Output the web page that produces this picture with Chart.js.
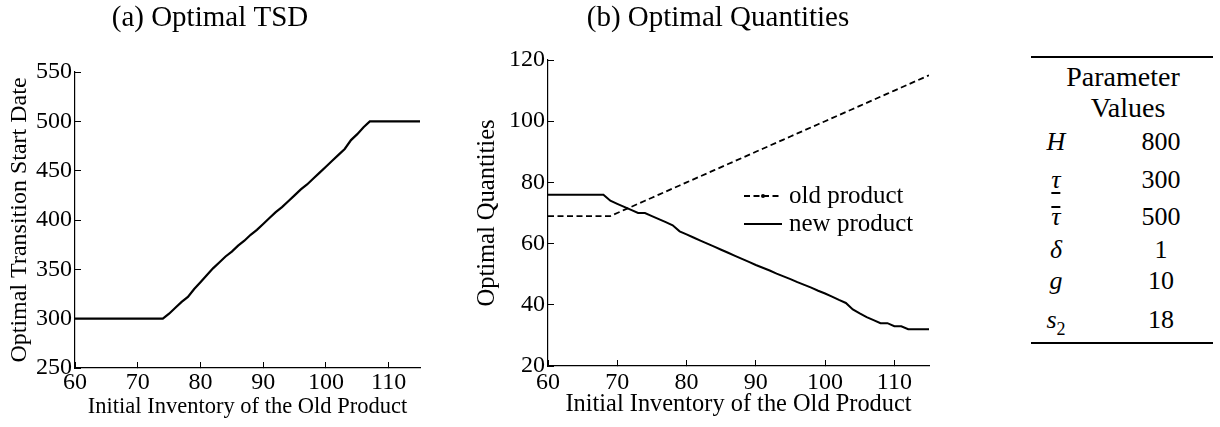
<!DOCTYPE html>
<html>
<head>
<meta charset="utf-8">
<script src="https://cdn.jsdelivr.net/npm/chart.js@4.4.0/dist/chart.umd.min.js"></script>
<style>
    body { margin: 0; width: 1220px; height: 427px; background: #fff; position: relative; overflow: hidden;
           font-family: "Liberation Serif", "Times New Roman", serif; color: #000; }
    #boxA { position: absolute; left: 0; top: 0; width: 424px; height: 427px; }
    #boxB { position: absolute; left: 460px; top: 0; width: 516px; height: 427px; }
    .rule { position: absolute; left: 1031px; width: 182px; height: 2px; background: #000; }
    .cell { position: absolute; height: 26px; line-height: 26px; font-size: 26px; white-space: nowrap;
            transform: translateX(-50%); }
    .sym { font-style: italic; position: relative; display: inline-block; }
    .under::after { content: ''; position: absolute; left: 0; right: 0; top: 25px; height: 1.5px; background: #000; }
    .over::after { content: ''; position: absolute; left: 0; right: 0; top: 2px; height: 1.5px; background: #000; }
    sub { font-style: normal; font-size: 18px; vertical-align: -7px; line-height: 0; }
</style>
</head>
<body>
<div id="boxA"><canvas id="chartA"></canvas></div>
<div id="boxB"><canvas id="chartB"></canvas></div>
<div id="tabla"></div>
<script>
// datos
const inventario = [60, 61, 62, 63, 64, 65, 66, 67, 68, 69, 70, 71, 72, 73, 74, 75, 76, 77, 78, 79,
    80, 81, 82, 83, 84, 85, 86, 87, 88, 89, 90, 91, 92, 93, 94, 95, 96, 97, 98, 99,
    100, 101, 102, 103, 104, 105, 106, 107, 108, 109, 110, 111, 112, 113, 114, 115];

const tsdOptimo = [300, 300, 300, 300, 300, 300, 300, 300, 300, 300, 300, 300, 300, 300, 300, 305, 311, 317, 322, 330,
    337, 344, 351, 357, 363, 368, 374, 379, 385, 390, 396, 402, 408, 413, 419, 425, 431, 436, 442, 448,
    454, 460, 466, 472, 481, 487, 494, 500, 500, 500, 500, 500, 500, 500, 500, 500];

const productoViejo = [69, 69, 69, 69, 69, 69, 69, 69, 69, 69, 70, 71, 72, 73, 74, 75, 76, 77, 78, 79,
    80, 81, 82, 83, 84, 85, 86, 87, 88, 89, 90, 91, 92, 93, 94, 95, 96, 97, 98, 99,
    100, 101, 102, 103, 104, 105, 106, 107, 108, 109, 110, 111, 112, 113, 114, 115];

const productoNuevo = [76, 76, 76, 76, 76, 76, 76, 76, 76, 74, 73, 72, 71, 70, 70, 69, 68, 67, 66, 64,
    63, 62, 61, 60, 59, 58, 57, 56, 55, 54, 53, 52.1, 51.2, 50.2, 49.3, 48.4, 47.4, 46.5, 45.6, 44.6,
    43.7, 42.7, 41.6, 40.6, 38.5, 37.2, 36, 35, 34, 34, 33, 33, 32, 32, 32, 32];

const simbolos = ['<i>H</i>', '<span class="sym under">τ</span>', '<span class="sym over">τ</span>',
    '<i>δ</i>', '<i>g</i>', '<i>s</i><sub>2</sub>'];
const valores = ['800', '300', '500', '1', '10', '18'];

const serif = '"Liberation Serif", "Times New Roman", serif';

function puntos(ys) {
    return inventario.map((x, i) => ({ x: x, y: ys[i] }));
}

function ejeX(padTicks, tamTitulo, padTitulo, alto) {
    return {
        type: 'linear',
        min: 60,
        max: 115,
        ticks: { stepSize: 10, includeBounds: false, color: '#000', padding: padTicks,
                 font: { family: serif, size: 24 } },
        grid: { display: true, drawOnChartArea: false, drawTicks: true, tickLength: -6, color: '#000' },
        border: { display: true, color: '#000', width: 1.2 },
        title: { display: true, text: 'Initial Inventory of the Old Product', color: '#000',
                 font: { family: serif, size: tamTitulo }, padding: { top: 0, bottom: padTitulo } },
        afterFit: s => { s.height = alto; }
    };
}

function ejeY(min, max, paso, titulo, tamTitulo, padTitulo, ancho) {
    return {
        min: min,
        max: max,
        ticks: { stepSize: paso, color: '#000', padding: 9, font: { family: serif, size: 24 } },
        grid: { display: true, drawOnChartArea: false, drawTicks: true, tickLength: -6, color: '#000' },
        border: { display: true, color: '#000', width: 1.2 },
        title: { display: true, text: titulo, color: '#000',
                 font: { family: serif, size: tamTitulo }, padding: { top: padTitulo, bottom: 0 } },
        afterFit: s => { s.width = ancho; }
    };
}

function tituloChart(texto, abajo) {
    return { display: true, text: texto, color: '#000',
             font: { family: serif, size: 29, weight: 'normal' }, padding: { top: 0.6, bottom: abajo } };
}

new Chart(document.getElementById('chartA'), {
    type: 'line',
    data: {
        datasets: [{
            label: 'TSD',
            data: puntos(tsdOptimo),
            borderColor: '#000',
            borderWidth: 2.2,
            pointRadius: 0,
            tension: 0
        }]
    },
    options: {
        responsive: true,
        maintainAspectRatio: false,
        animation: false,
        layout: { padding: { right: 4 } },
        plugins: {
            legend: { display: false },
            tooltip: { enabled: false },
            title: tituloChart('(a) Optimal TSD', 36.6)
        },
        scales: {
            x: ejeX(6.6, 22.5, 6.5, 59),
            y: ejeY(250, 550, 50, 'Optimal Transition Start Date', 24, 5.6, 75)
        }
    }
});

// leyenda dentro del area del grafico
const leyendaCantidades = {
    id: 'leyendaCantidades',
    afterDraw(chart) {
        const { ctx, chartArea } = chart;
        const filas = [chartArea.top + 136, chartArea.top + 164];
        ctx.save();
        chart.data.datasets.forEach((ds, i) => {
            const y = filas[i];
            ctx.strokeStyle = '#000';
            ctx.lineWidth = ds.borderWidth;
            ctx.setLineDash(ds.borderDash || []);
            ctx.beginPath();
            ctx.moveTo(chartArea.left + 196, y);
            ctx.lineTo(chartArea.left + 234, y);
            ctx.stroke();
            if (i === 0) {
                ctx.setLineDash([]);
                ctx.beginPath();
                ctx.arc(chartArea.left + 215, y, 2, 0, Math.PI * 2);
                ctx.fillStyle = '#000';
                ctx.fill();
            }
            ctx.fillStyle = '#000';
            ctx.font = '25px ' + serif;
            ctx.textBaseline = 'middle';
            ctx.fillText(ds.label, chartArea.left + 241, y);
        });
        ctx.restore();
    }
};

new Chart(document.getElementById('chartB'), {
    type: 'line',
    data: {
        datasets: [{
            label: 'old product',
            data: puntos(productoViejo),
            borderColor: '#000',
            borderWidth: 1.8,
            borderDash: [6, 3.5],
            pointRadius: 0,
            tension: 0
        },
        {
            label: 'new product',
            data: puntos(productoNuevo),
            borderColor: '#000',
            borderWidth: 2,
            pointRadius: 0,
            tension: 0
        }]
    },
    options: {
        responsive: true,
        maintainAspectRatio: false,
        animation: false,
        plugins: {
            legend: { display: false },
            tooltip: { enabled: false },
            title: tituloChart('(b) Optimal Quantities', 24.6)
        },
        scales: {
            x: ejeX(8.6, 24.4, 7.4, 61),
            y: ejeY(20, 120, 20, 'Optimal Quantities', 24.5, 13.3, 88),
            relleno: {
                type: 'linear',
                position: 'right',
                display: true,
                grid: { display: false },
                ticks: { display: false },
                border: { display: false },
                afterFit: s => { s.width = 47; }
            }
        }
    },
    plugins: [leyendaCantidades]
});

// tabla de parametros
const tabla = document.getElementById('tabla');
const filasY = [142, 180, 217, 250, 281, 320];
let html = '<div class="rule" style="top:56px"></div>' +
    '<div class="cell" style="left:1123px;top:64px;font-size:28px">Parameter</div>' +
    '<div class="cell" style="left:1128px;top:95px;font-size:28px">Values</div>';
simbolos.forEach((s, i) => {
    html += '<div class="cell" style="left:1056px;top:' + (filasY[i] - 13) + 'px">' + s + '</div>';
    html += '<div class="cell" style="left:1161px;top:' + (filasY[i] - 13) + 'px">' + valores[i] + '</div>';
});
html += '<div class="rule" style="top:342px"></div>';
tabla.innerHTML = html;
</script>
</body>
</html>
